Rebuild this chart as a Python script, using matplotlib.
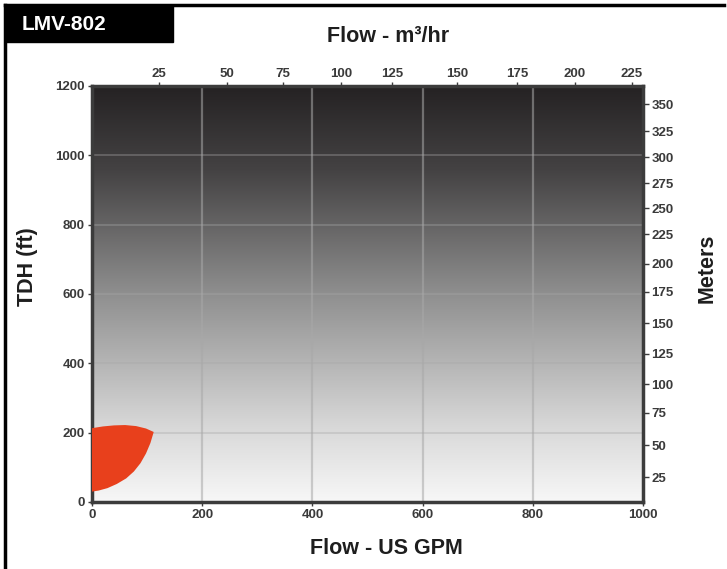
import numpy as np
import matplotlib
matplotlib.use("Agg")
import matplotlib.pyplot as plt
from matplotlib.colors import LinearSegmentedColormap
from matplotlib.patches import Rectangle
from matplotlib.lines import Line2D

plt.rcParams['font.family'] = ['Liberation Sans', 'DejaVu Sans']

# ---- data ----
title = "LMV-802"
gpm_ticks = [0, 200, 400, 600, 800, 1000]
tdh_ticks = [0, 200, 400, 600, 800, 1000, 1200]
# top axis (m3/hr) tick labels and their positions read in GPM
m3hr_labels = ["25", "50", "75", "100", "125", "150", "175", "200", "225"]
m3hr_pos_gpm = [122, 245, 347, 452, 545, 662, 771, 876, 980]
# right axis (meters) tick labels and their positions read in feet
meter_labels = ["350", "325", "300", "275", "250", "225", "200", "175", "150",
                "125", "100", "75", "50", "25"]
meter_pos_ft = [1148, 1070, 995, 920, 848, 773, 687, 606, 516, 427, 340, 257, 164, 72]
# operating region outline (GPM, ft)
region_gpm = [0, 20, 40, 60, 80, 98, 112, 106, 98, 88, 76, 62, 45, 28, 12, 0]
region_ft = [213, 218, 221, 222, 219, 212, 202, 170, 140, 112, 88, 68, 52, 40, 33, 30]

fig = plt.figure(figsize=(7.27, 5.69), dpi=100)
fig.patch.set_facecolor('white')

ax = fig.add_axes([92/727, 1-502/569, (643-92)/727, (502-86)/569])
ax.set_xlim(0, 1000)
ax.set_ylim(0, 1200)

# gradient background
cmap = LinearSegmentedColormap.from_list('g', [(0, '#f7f7f7'), (0.18, '#d8d8d8'),
                                               (0.5, '#8f8f8f'), (0.8, '#444243'),
                                               (1, '#252223')])
grad = np.linspace(0, 1, 256).reshape(-1, 1)
ax.imshow(grad, cmap=cmap, origin='lower', extent=[0, 1000, 0, 1200],
          aspect='auto', zorder=0)

for x in [200, 400, 600, 800]:
    ax.axvline(x, color='#a8a8a8', lw=1.6, alpha=0.55, zorder=1)
for y in [200, 400, 600, 800, 1000]:
    ax.axhline(y, color='#a8a8a8', lw=1.4, alpha=0.35, zorder=1)

ax.fill(region_gpm, region_ft, color='#e8401c', zorder=3, lw=0)

for s in ax.spines.values():
    s.set_color('#3c3c3c')
    s.set_linewidth(2.5)

tick_font = dict(fontsize=9.5, fontweight='bold', color='#3a3a3a')
ax.set_xticks(gpm_ticks)
ax.set_xticklabels([str(v) for v in gpm_ticks], **tick_font)
ax.set_yticks(tdh_ticks)
ax.set_yticklabels([str(v) for v in tdh_ticks], **tick_font)
ax.tick_params(axis='both', length=3, width=1, color='#3c3c3c', pad=2)

axt = ax.twiny()
axt.set_xlim(0, 1000)
axt.set_xticks(m3hr_pos_gpm)
axt.set_xticklabels(m3hr_labels, **tick_font)
axt.tick_params(axis='x', length=3, width=1, color='#3c3c3c', pad=1)
for s in axt.spines.values():
    s.set_visible(False)

axr = ax.twinx()
axr.set_ylim(0, 1200)
axr.set_yticks(meter_pos_ft)
axr.set_yticklabels(meter_labels, **tick_font)
axr.tick_params(axis='y', length=4, width=1, color='#3c3c3c', pad=2)
for s in axr.spines.values():
    s.set_visible(False)

lab = dict(fontsize=15.5, fontweight='bold', color='#1e1e1e')
fig.text(386/727, 1-548/569, "Flow - US GPM", ha='center', va='center', **lab)
fig.text(388/727, 1-37/569, "Flow - m³/hr", ha='center', va='center', **lab)
fig.text(28/727, 1-267/569, "TDH (ft)", ha='center', va='center', rotation=90, **lab)
fig.text(707/727, 1-268/569, "Meters", ha='center', va='center', rotation=90, **lab)

# outer frame lines
fig.add_artist(Line2D([5/727, 724/727], [1-5/569, 1-5/569], color='black', lw=2.5,
                      transform=fig.transFigure))
fig.add_artist(Line2D([5/727, 5/727], [1-5/569, 0], color='black', lw=2.5,
                      transform=fig.transFigure))
# title box
fig.add_artist(Rectangle((5/727, 1-42/569), (173-5)/727, 37/569, color='black',
                         transform=fig.transFigure))
fig.text(22/727, 1-24/569, title, ha='left', va='center', fontsize=15,
         fontweight='bold', color='white')

fig.savefig('out.png', dpi=100)
